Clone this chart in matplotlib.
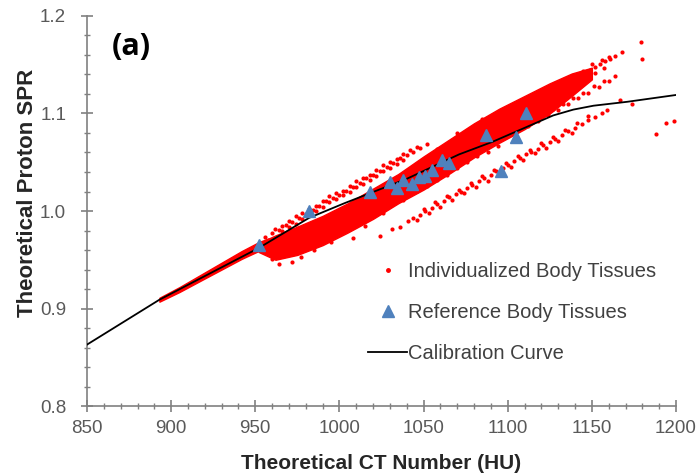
import matplotlib
matplotlib.use("Agg")
import matplotlib.pyplot as plt
from matplotlib.lines import Line2D
from matplotlib.ticker import MultipleLocator, FormatStrFormatter

plt.rcParams['font.family'] = ['Liberation Sans', 'DejaVu Sans']

# Calibration curve (HU, SPR)
curve_x = [850, 893, 913, 952, 982, 1003, 1040, 1071, 1091, 1111, 1127, 1139, 1151, 1171, 1200]
curve_y = [0.863, 0.909, 0.927, 0.962, 0.993, 1.008, 1.033, 1.058, 1.071, 1.086, 1.098, 1.104, 1.108, 1.112, 1.119]

# Reference body tissues (triangles)
ref_x = [952, 982, 1018, 1030, 1034, 1038, 1043, 1047, 1051, 1055, 1061, 1065, 1087, 1096, 1105, 1111]
ref_y = [0.965, 1.000, 1.020, 1.030, 1.024, 1.032, 1.028, 1.035, 1.036, 1.042, 1.052, 1.049, 1.078, 1.041, 1.076, 1.101]

# Individualized tissues: the solid parts of the cloud, as envelopes
lead_x = [893, 905, 918, 930, 942, 952, 958]
lead_lo = [0.907, 0.917, 0.929, 0.940, 0.951, 0.959, 0.963]
lead_hi = [0.911, 0.922, 0.935, 0.947, 0.959, 0.968, 0.972]

band_x = [952, 962, 975, 990, 1005, 1020, 1035, 1050, 1065, 1080, 1095, 1110, 1125, 1138, 1150]
band_lo = [0.958, 0.950, 0.955, 0.965, 0.978, 0.992, 1.008, 1.022, 1.038, 1.055, 1.070, 1.084, 1.100, 1.118, 1.135]
band_hi = [0.967, 0.975, 0.984, 0.995, 1.008, 1.023, 1.038, 1.056, 1.073, 1.090, 1.105, 1.118, 1.131, 1.141, 1.147]

# Individualized tissues: single dots
# upper thin stripe (above the curve, 955-1052 HU)
up_x = [962, 966, 970, 974, 978, 982, 986, 990, 994, 998, 1002, 1006, 1010, 1014, 1018, 1022,
        1026, 1030, 1034, 1038, 1042, 1046,
        956, 960, 964, 968, 972, 976, 980, 984, 988, 992, 996, 1000, 1004, 1008, 1012, 1016,
        1020, 1024, 1028, 1032, 1036, 1040, 1044, 1048, 1052,
        966, 970, 974, 978, 982, 986, 990, 994, 998, 1002, 1006, 1010, 1014, 1018, 1022, 1026,
        1030, 1034, 1038]
up_y = [0.982, 0.985, 0.990, 0.995, 0.998, 1.002, 1.005, 1.010, 1.015, 1.018, 1.021, 1.026,
        1.031, 1.034, 1.037, 1.042, 1.047, 1.050, 1.053, 1.058, 1.063, 1.066,
        0.973, 0.977, 0.981, 0.986, 0.989, 0.993, 0.997, 1.001, 1.005, 1.010, 1.013, 1.016,
        1.021, 1.025, 1.029, 1.034, 1.037, 1.041, 1.045, 1.049, 1.054, 1.057, 1.061, 1.065, 1.069,
        0.980, 0.984, 0.987, 0.992, 0.996, 1.000, 1.004, 1.009, 1.012, 1.016, 1.020, 1.025,
        1.028, 1.032, 1.036, 1.041, 1.044, 1.048, 1.052]

# faint stripe under the main cloud, crossing the curve near 1100 HU
mid_x = [1040, 1046, 1052, 1058, 1064, 1070, 1076, 1082, 1088, 1094, 1112, 1118, 1124, 1130,
         1136, 1142, 1148, 1154, 1160, 1164,
         1115, 1121, 1127, 1133, 1139, 1145, 1151, 1157]
mid_y = [1.016, 1.021, 1.026, 1.032, 1.037, 1.044, 1.050, 1.056, 1.061, 1.067, 1.087, 1.092,
         1.098, 1.104, 1.110, 1.116, 1.121, 1.127, 1.133, 1.138,
         1.093, 1.098, 1.105, 1.110, 1.116, 1.121, 1.128, 1.133]

# top tail of the main cloud
tail_x = [1132, 1136, 1140, 1143, 1146, 1149, 1152, 1155, 1158, 1161, 1164, 1168,
          1142, 1147, 1152, 1157, 1138, 1145, 1150, 1156, 1160]
tail_y = [1.131, 1.134, 1.137, 1.140, 1.143, 1.145, 1.148, 1.151, 1.154, 1.156, 1.159, 1.163,
          1.134, 1.139, 1.142, 1.147, 1.138, 1.144, 1.151, 1.155, 1.158]

# lowest stripe (below the curve)
low_x = [1024, 1031, 1036, 1041, 1044, 1048, 1051, 1055, 1058, 1062, 1065, 1069, 1072, 1076,
         1079, 1083, 1086, 1090, 1093, 1097, 1100, 1104, 1107, 1111, 1114, 1118, 1121, 1125,
         1128, 1132, 1136, 1140, 1144, 1148, 1152, 1156, 1159,
         1046, 1053, 1060, 1067, 1074, 1081, 1088, 1102, 1109, 1116, 1123, 1130, 1138,
         1050, 1057, 1064, 1071, 1078, 1085, 1092, 1099, 1106, 1113, 1120, 1127, 1134, 1141, 1148]
low_y = [0.974, 0.982, 0.984, 0.990, 0.993, 0.996, 1.000, 1.003, 1.007, 1.010, 1.014, 1.017,
         1.020, 1.024, 1.027, 1.031, 1.034, 1.037, 1.041, 1.044, 1.047, 1.051, 1.054, 1.058,
         1.061, 1.064, 1.068, 1.071, 1.074, 1.078, 1.082, 1.085, 1.089, 1.093, 1.096, 1.100, 1.104,
         0.991, 0.998, 1.004, 1.011, 1.018, 1.025, 1.031, 1.045, 1.052, 1.059, 1.065, 1.072, 1.080,
         1.002, 1.009, 1.015, 1.022, 1.029, 1.036, 1.042, 1.049, 1.056, 1.063, 1.070, 1.076,
         1.083, 1.090, 1.097]

# loose dots around the edges of the main cloud
fuzz_x = [960, 964, 968, 972, 977, 966, 971, 975, 985, 995, 1008, 1015, 1028, 1038, 1026,
          1070, 1085, 1100, 1120, 1058, 1076, 1092, 1108, 1122, 1130, 1135]
fuzz_y = [0.951, 0.946, 0.958, 0.948, 0.953, 0.962, 0.968, 0.960, 0.960, 0.968, 0.972, 0.985,
          1.004, 1.011, 0.998, 1.080, 1.094, 1.106, 1.120, 1.064, 1.082, 1.098, 1.110, 1.122,
          1.113, 1.124]

# isolated points at high HU
out_x = [1167, 1174, 1179, 1180, 1188, 1194, 1199]
out_y = [1.114, 1.110, 1.173, 1.156, 1.079, 1.090, 1.092]

RED = '#ff0000'
BLUE = '#4f81bd'
GREY = '#808080'
TXT = '#595959'

fig = plt.figure(figsize=(6.99, 4.73), dpi=100)
ax = fig.add_axes([0.1245, 0.1416, 0.8426, 0.8246])

ax.fill_between(lead_x, lead_lo, lead_hi, color=RED, lw=1, ec=RED, zorder=2)
ax.fill_between(band_x, band_lo, band_hi, color=RED, lw=1, ec=RED, zorder=2)
for xs, ys in [(up_x, up_y), (mid_x, mid_y), (tail_x, tail_y), (low_x, low_y),
               (fuzz_x, fuzz_y), (out_x, out_y)]:
    ax.scatter(xs, ys, s=9, color=RED, lw=0, zorder=2)

ax.plot(curve_x, curve_y, color='black', lw=1.3, zorder=3)
ax.plot(ref_x, ref_y, ls='none', marker='^', ms=9, color=BLUE, mec=BLUE, zorder=4)

ax.set_xlim(850, 1200)
ax.set_ylim(0.8, 1.2)
ax.xaxis.set_major_locator(MultipleLocator(50))
ax.xaxis.set_minor_locator(MultipleLocator(10))
ax.yaxis.set_major_locator(MultipleLocator(0.1))
ax.yaxis.set_minor_locator(MultipleLocator(0.02))
ax.yaxis.set_major_formatter(FormatStrFormatter('%.1f'))

for side in ['top', 'right']:
    ax.spines[side].set_visible(False)
for side in ['left', 'bottom']:
    ax.spines[side].set_color(GREY)
    ax.spines[side].set_linewidth(1.2)

ax.tick_params(which='major', direction='inout', length=8, width=1.2, color=GREY,
               labelcolor=TXT, labelsize=13.5)
ax.tick_params(which='minor', direction='inout', length=5, width=1, color=GREY)
ax.tick_params(axis='x', which='major', pad=6)
ax.tick_params(axis='y', which='major', pad=11)

ax.set_xlabel('Theoretical CT Number (HU)', fontsize=15, fontweight='bold', color='#262626')
ax.set_ylabel('Theoretical Proton SPR', fontsize=16, fontweight='bold', color='#262626')
ax.xaxis.set_label_coords(0.5, -0.122)
ax.yaxis.set_label_coords(-0.083, 0.546)

fig.text(112 / 699, 1 - 47 / 473, '(a)', fontsize=22, fontweight='bold',
         family=['Open Sans', 'DejaVu Sans'], va='center', ha='left')

handles = [
    Line2D([], [], ls='none', marker='o', ms=2.5, color=RED),
    Line2D([], [], ls='none', marker='^', ms=9, color=BLUE),
    Line2D([], [], color='black', lw=1.3),
]
labels = ['Individualized Body Tissues', 'Reference Body Tissues', 'Calibration Curve']
leg = fig.legend(handles, labels, loc='upper left', bbox_to_anchor=(368 / 699, 1 - 262 / 473),
                 frameon=False, fontsize=14.5, handlelength=1.95, handletextpad=0.05,
                 labelspacing=1.1, borderpad=0, borderaxespad=0)
for t in leg.get_texts():
    t.set_color('#404040')

fig.savefig('out.png', dpi=100)
